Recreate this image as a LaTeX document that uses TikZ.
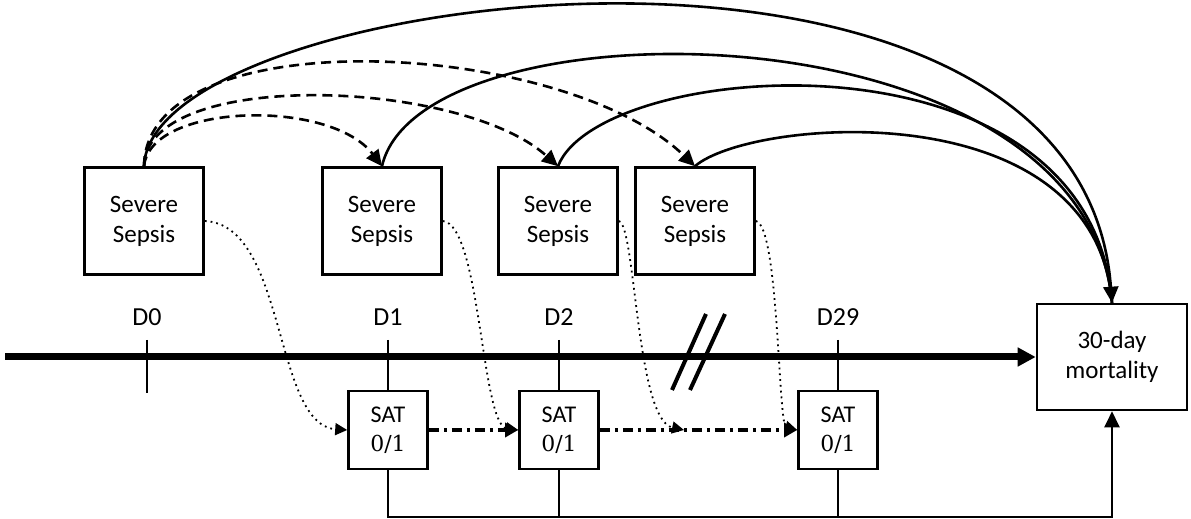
\documentclass[tikz,border=0pt]{standalone}
\usepackage{fontspec}
\setmainfont{Carlito}
\newfontfamily\numfont{DejaVu Serif}
\usepackage{tikz}
\usetikzlibrary{arrows.meta}

\tikzset{
  >={Triangle[length=8pt,width=7.5pt]},
  sepsis/.style = {draw, line width=1.3pt, minimum width=59.5pt, minimum height=53.5pt,
                   align=center, font=\fontsize{12.5}{15}\selectfont},
  satbox/.style = {draw, line width=1.3pt, minimum width=39.5pt, minimum height=39pt,
                   align=center, font=\fontsize{12}{14.5}\selectfont},
  daylabel/.style = {font=\fontsize{13}{15}\selectfont},
  daytick/.style = {line width=1.2pt},
  spread/.style = {line width=1.3pt, dashed, dash pattern=on 5pt off 3pt},
  death/.style = {line width=1.3pt},
  onset/.style = {line width=0.9pt, dotted, -{Triangle[length=6pt,width=6pt]}},
  satlink/.style = {line width=1.8pt, dash pattern=on 5pt off 2.5pt on 1.5pt off 2.5pt,
                    -{Triangle[length=6.5pt,width=7pt]}}
}

\begin{document}
\begin{tikzpicture}[x=0.5pt, y=-0.5pt]
\useasboundingbox (0,0) rectangle (1191,519);

% severe sepsis boxes
\node[sepsis] (sepA) at (144,221) {Severe\\Sepsis};
\node[sepsis] (sepB) at (382,221) {Severe\\Sepsis};
\node[sepsis] (sepC) at (558,221) {Severe\\Sepsis};
\node[sepsis] (sepD) at (695,221) {Severe\\Sepsis};

% outcome and SAT boxes
\node[sepsis, minimum width=75pt, minimum height=53pt] (mort) at (1112,357) {30-day\\mortality};
\node[satbox] (sat1) at (388,430) {SAT\\{\numfont\fontsize{11}{14.5}\selectfont 0/1}};
\node[satbox] (sat2) at (559,430) {SAT\\{\numfont\fontsize{11}{14.5}\selectfont 0/1}};
\node[satbox] (sat29) at (838,430) {SAT\\{\numfont\fontsize{11}{14.5}\selectfont 0/1}};

% time axis
\coordinate (start) at (5,357);
\draw[line width=3.5pt, -{Triangle[length=9pt,width=9pt]}] (start) -- (mort.west);
\draw[line width=2pt] (672,390) -- (706,314);
\draw[line width=2pt] (690,390) -- (725,314);

\node[daylabel] (d0) at (147,317) {D0};
\node[daylabel] (d1) at (388,317) {D1};
\node[daylabel] (d2) at (559,317) {D2};
\node[daylabel] (d29) at (838,317) {D29};
\draw[daytick] (147,340) -- (147,393);
\draw[daytick] (388,340) -- (sat1.north);
\draw[daytick] (559,340) -- (sat2.north);
\draw[daytick] (838,340) -- (sat29.north);

% SAT to mortality
\coordinate (base) at (388,517);
\draw[daytick, ->] (sat1.south) -- (base) -| (mort.south);
\draw[daytick] (sat2.south) -- (sat2.south |- base);
\draw[daytick] (sat29.south) -- (sat29.south |- base);

% sepsis days to SAT
\coordinate (gap) at (684,430);
\draw[onset] (sepA.east) .. controls +(82,4) and +(-74,-5) .. (sat1.west);
\draw[onset] (sepB.east) .. controls +(38,4) and +(-37,-5) .. (sat2.west);
\draw[onset] (sepC.east) .. controls +(17,4) and +(-48,-10) .. (gap);
\draw[onset] (sepD.east) .. controls +(23,4) and +(-19,-5) .. (sat29.west);

\draw[satlink] (sat1.east) -- (sat2.west);
\draw[satlink] (sat2.east) -- (sat29.west);

% sepsis carried over
\draw[spread, ->] (sepA.north) .. controls +(6,-63) and +(-52,-68) .. (sepB.north);
\draw[spread, ->] (sepA.north) .. controls +(2,-98) and +(-98,-88) .. (sepC.north);
\draw[spread, ->] (sepA.north) .. controls +(2,-148) and +(-133,-128) .. (sepD.north);

% sepsis to mortality
\draw[death, ->] (sepA.north) .. controls +(6,-178) and +(-32,-433) .. (mort.north);
\draw[death] (sepB.north) .. controls +(38,-168) and +(-27,-303) .. (mort.north);
\draw[death] (sepC.north) .. controls +(42,-108) and +(-22,-283) .. (mort.north);
\draw[death] (sepD.north) .. controls +(55,-48) and +(-17,-213) .. (mort.north);
\end{tikzpicture}
\end{document}
